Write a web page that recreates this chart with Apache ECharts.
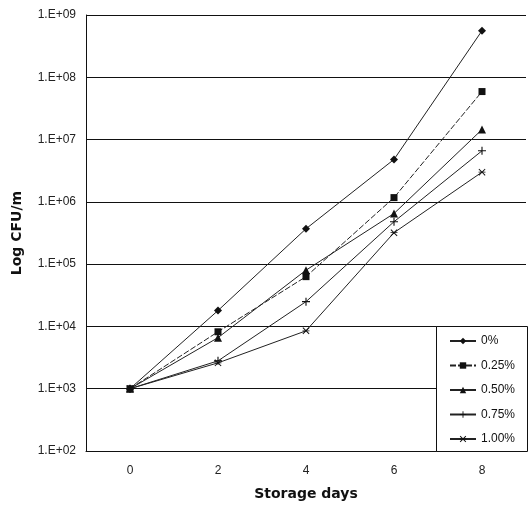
<!DOCTYPE html>
<html><head><meta charset="utf-8">
<script src="https://cdn.jsdelivr.net/npm/echarts@6/dist/echarts.min.js"></script>
<style>html,body{margin:0;padding:0;background:#fff}#c{width:528px;height:510px}</style>
</head><body><div id="c"></div>
<script>
const days = ['0', '2', '4', '6', '8'];
const s0 = [1000, 18000, 370000, 4800000, 560000000];
const s025 = [1000, 8200, 63000, 1170000, 59000000];
const s050 = [1000, 6600, 80000, 650000, 14500000];
const s075 = [1000, 2800, 25000, 480000, 6600000];
const s100 = [1000, 2600, 8500, 320000, 3000000];
const names = ['0%', '0.25%', '0.50%', '0.75%', '1.00%'];

const plusPath = 'path://M0,4.3h10v1.4h-10z M4.3,0h1.4v10h-1.4z';
const starPath = 'path://M1,0L5,4L9,0L10,1L6,5L10,9L9,10L5,6L1,10L0,9L4,5L0,1z M0,4.4h10v1.2h-10z';
const symbols = ['diamond', 'rect', 'triangle', plusPath, starPath];
const sizes = [8, 7, 8, 8, 7];
const datas = [s0, s025, s050, s075, s100];

const chart = echarts.init(document.getElementById('c'));
chart.setOption({
  animation: false,
  backgroundColor: '#fff',
  grid: {left: 86, right: 2, top: 15, bottom: 59},
  graphic: [{
    type: 'rect', left: 436, top: 326, z: 100,
    shape: {width: 91, height: 125},
    style: {fill: '#fff', stroke: '#111', lineWidth: 1}
  }],
  legend: {
    orient: 'vertical', left: 449, top: 334, z: 200,
    data: names, itemWidth: 26, itemHeight: 8, itemGap: 10.5,
    padding: 0,
    textStyle: {fontFamily: 'Liberation Sans', fontSize: 12, color: '#111', lineHeight: 14}
  },
  xAxis: {
    type: 'category', data: days, boundaryGap: true,
    name: 'Storage days', nameLocation: 'middle', nameGap: 36,
    nameTextStyle: {fontFamily: 'DejaVu Sans', fontWeight: 'bold', fontSize: 14, color: '#111'},
    axisLine: {lineStyle: {color: '#111', width: 1}},
    axisTick: {show: false},
    axisLabel: {fontFamily: 'Liberation Sans', fontSize: 12, color: '#222', margin: 14}
  },
  yAxis: {
    type: 'log', logBase: 10, min: 100, max: 1e9,
    name: 'Log CFU/m', nameLocation: 'middle', nameGap: 62,
    nameTextStyle: {fontFamily: 'DejaVu Sans', fontWeight: 'bold', fontSize: 14, color: '#111'},
    axisLine: {show: true, lineStyle: {color: '#111', width: 1}},
    axisTick: {show: false},
    splitLine: {show: true, lineStyle: {color: '#111', width: 1}},
    axisLabel: {
      fontFamily: 'Liberation Sans', fontSize: 12, color: '#222', margin: 10,
      formatter: v => '1.E+' + String(Math.round(Math.log10(v))).padStart(2, '0')
    }
  },
  series: names.map((n, i) => ({
    name: n, type: 'line', data: datas[i],
    symbol: symbols[i], symbolSize: sizes[i], showAllSymbol: true,
    lineStyle: {color: '#222', width: 1, type: i === 1 ? [6, 2] : 'solid'},
    itemStyle: {color: '#111', borderColor: '#111', borderWidth: 0}
  }))
});
</script></body></html>
